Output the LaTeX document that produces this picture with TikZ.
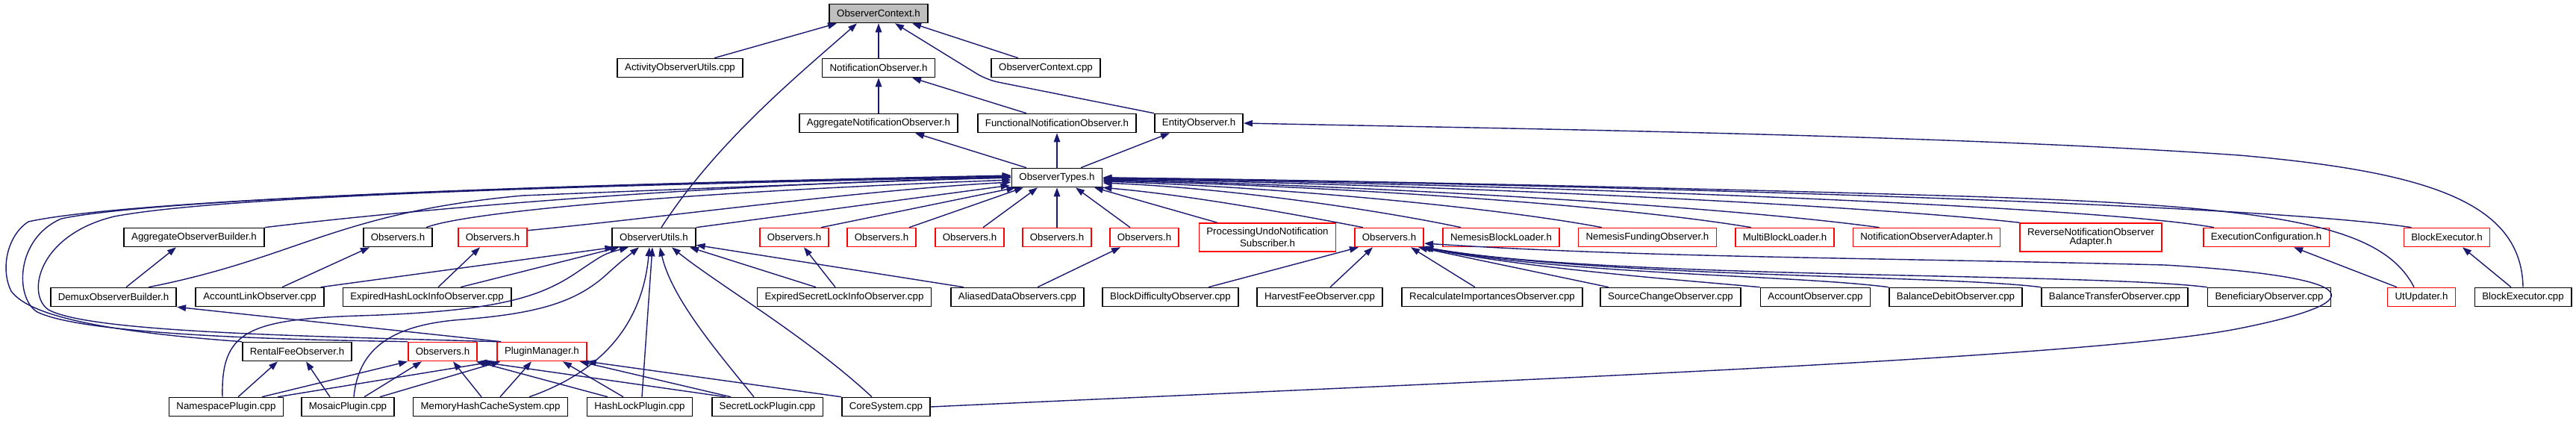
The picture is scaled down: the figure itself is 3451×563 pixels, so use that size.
\documentclass[tikz,border=0pt]{standalone}
\usepackage{fontspec}
\setmainfont{Liberation Sans}
\usetikzlibrary{arrows.meta,calc}

\definecolor{edgeblue}{HTML}{191970}
\definecolor{rootgray}{HTML}{BFBFBF}

\begin{document}
\begin{tikzpicture}[x=0.01cm,y=-0.01cm,
  file/.style={draw=black,fill=white,line width=0.45pt,inner xsep=0.1cm,
    inner ysep=0pt,minimum height=0.25cm,font=\fontsize{3.78}{3.5}\selectfont},
  missing/.style={file,draw=red},
  root/.style={file,fill=rootgray},
  twoline/.style={align=center,minimum height=0.38cm},
  dep/.style={edgeblue,line width=0.4pt,-{Triangle[length=0.12cm,width=0.085cm]}}]

\useasboundingbox (0,0) rectangle (3451,563);

%%%%%%%%%%%%%%%%%%%%%%%%%%%%%%%%%%%%%%%%%%%%%%%%%%
% Files
%%%%%%%%%%%%%%%%%%%%%%%%%%%%%%%%%%%%%%%%%%%%%%%%%%

% Root
\node[root] (ctx) at (1177,18) {ObserverContext.h};

% First and second level
\node[file] (actUtils) at (911,91) {ActivityObserverUtils.cpp};
\node[file] (notifObs) at (1177,91) {NotificationObserver.h};
\node[file] (ctxCpp) at (1401,91) {ObserverContext.cpp};

\node[file] (aggNotif) at (1177,165) {AggregateNotificationObserver.h};
\node[file] (funcNotif) at (1416,165) {FunctionalNotificationObserver.h};
\node[file] (entityObs) at (1606,165) {EntityObserver.h};

\node[file] (obsTypes) at (1416,238) {ObserverTypes.h};

% Fourth row
\node[file] (aggBuilder) at (260,318) {AggregateObserverBuilder.h};
\node[file] (obsA) at (533,318) {Observers.h};
\node[missing] (obsB) at (660,318) {Observers.h};
\node[file] (obsUtils) at (876,318) {ObserverUtils.h};
\node[missing] (obsC) at (1064,318) {Observers.h};
\node[missing] (obsD) at (1181,318) {Observers.h};
\node[missing] (obsE) at (1299,318) {Observers.h};
\node[missing] (obsF) at (1416,318) {Observers.h};
\node[missing] (obsG) at (1533,318) {Observers.h};
\node[missing,twoline] (undoSub) at (1698,318) {ProcessingUndoNotification\\Subscriber.h};
\node[missing] (obsH) at (1861,318) {Observers.h};
\node[missing] (nemLoader) at (2011,318) {NemesisBlockLoader.h};
\node[missing] (nemFunding) at (2207,318) {NemesisFundingObserver.h};
\node[missing] (multiLoader) at (2391,318) {MultiBlockLoader.h};
\node[missing] (adapter) at (2581,318) {NotificationObserverAdapter.h};
\node[missing,twoline] (revAdapter) at (2801,318) {ReverseNotificationObserver\\Adapter.h};
\node[missing] (execConfig) at (3036,318) {ExecutionConfiguration.h};
\node[missing] (blockExecH) at (3278,318) {BlockExecutor.h};

% Fifth row
\node[file] (demux) at (152,398) {DemuxObserverBuilder.h};
\node[file] (accLink) at (348,398) {AccountLinkObserver.cpp};
\node[file] (expHash) at (572,398) {ExpiredHashLockInfoObserver.cpp};
\node[file] (expSecret) at (1131,398) {ExpiredSecretLockInfoObserver.cpp};
\node[file] (aliased) at (1363,398) {AliasedDataObservers.cpp};
\node[file] (blockDiff) at (1568,398) {BlockDifficultyObserver.cpp};
\node[file] (harvest) at (1768,398) {HarvestFeeObserver.cpp};
\node[file] (recalc) at (1999,398) {RecalculateImportancesObserver.cpp};
\node[file] (srcChange) at (2238,398) {SourceChangeObserver.cpp};
\node[file] (accObs) at (2432,398) {AccountObserver.cpp};
\node[file] (balDebit) at (2620,398) {BalanceDebitObserver.cpp};
\node[file] (balTransfer) at (2833,398) {BalanceTransferObserver.cpp};
\node[file] (benef) at (3040,398) {BeneficiaryObserver.cpp};
\node[missing] (utUpdater) at (3244,398) {UtUpdater.h};
\node[file] (blockExecCpp) at (3380,398) {BlockExecutor.cpp};

% Sixth row
\node[file] (rentalFee) at (398,471) {RentalFeeObserver.h};
\node[missing] (obsI) at (593,471) {Observers.h};
\node[missing] (pluginMgr) at (726,471) {PluginManager.h};

% Seventh row
\node[file] (nsPlugin) at (303,545) {NamespacePlugin.cpp};
\node[file] (mosaicPlugin) at (466,545) {MosaicPlugin.cpp};
\node[file] (memCache) at (657,545) {MemoryHashCacheSystem.cpp};
\node[file] (hashLock) at (857,545) {HashLockPlugin.cpp};
\node[file] (secretLock) at (1028,545) {SecretLockPlugin.cpp};
\node[file] (coreSys) at (1187,545) {CoreSystem.cpp};

%%%%%%%%%%%%%%%%%%%%%%%%%%%%%%%%%%%%%%%%%%%%%%%%%%
% Includes
%%%%%%%%%%%%%%%%%%%%%%%%%%%%%%%%%%%%%%%%%%%%%%%%%%

% ObserverContext.h
\draw[dep] ($(actUtils.north)+(46,0)$) -- ($(ctx.south)+(-56,0)$);
\draw[dep] ($(obsUtils.north)+(10,0)$) .. controls (960,190) and (1070,100) .. ($(ctx.south)+(-29,0)$);
\draw[dep] (notifObs) -- (ctx);
\draw[dep,rounded corners=0.15cm] (entityObs.north west) -- (1322,107) -- ($(ctx.south)+(22,0)$);
\draw[dep] ($(ctxCpp.north)+(-37,0)$) -- ($(ctx.south)+(45,0)$);

% NotificationObserver.h and EntityObserver.h
\draw[dep] (aggNotif) -- (notifObs);
\draw[dep] ($(funcNotif.north)+(-41,0)$) -- ($(notifObs.south)+(45,0)$);
\draw[dep] ($(obsTypes.north)+(-41,0)$) -- ($(aggNotif.south)+(49,0)$);
\draw[dep] (obsTypes) -- (funcNotif);
\draw[dep] ($(obsTypes.north)+(32,0)$) -- ($(entityObs.south)+(-39,0)$);
\draw[dep] (blockExecCpp.north) .. controls (3378,270) and (3250,230) .. (3000,208)
  .. controls (2600,180) and (2000,172) .. (entityObs.east);

% ObserverTypes.h, right side
\draw[dep] ($(blockExecH.north west)+(11,0)$) .. controls (3000,270) and (2000,245) .. (obsTypes.east);
\draw[dep] ($(utUpdater.north)+(-10,0)$) .. controls (3190,300) and (3050,275) .. (2600,262)
  .. controls (2200,250) and (1700,240) .. (obsTypes.east);
\draw[dep] ($(execConfig.north west)+(15,0)$) .. controls (2800,275) and (2000,246) .. ($(obsTypes.east)+(0,1)$);
\draw[dep] (revAdapter.north west) .. controls (2500,275) and (1900,246) .. ($(obsTypes.east)+(0,2)$);
\draw[dep] ($(adapter.north west)+(36,0)$) .. controls (2300,275) and (1800,247) .. ($(obsTypes.east)+(0,3)$);
\draw[dep] ($(multiLoader.north west)+(22,0)$) .. controls (2150,272) and (1750,248) .. ($(obsTypes.east)+(0,4)$);
\draw[dep] ($(nemFunding.north west)+(32,0)$) .. controls (2000,277) and (1700,250) .. ($(obsTypes.east)+(0,5)$);
\draw[dep] ($(nemLoader.north west)+(25,0)$) .. controls (1850,282) and (1650,252) .. ($(obsTypes.east)+(0,7)$);
\draw[dep] ($(obsH.north west)+(12,0)$) .. controls (1750,290) and (1600,262) .. (obsTypes.south east);

% ObserverTypes.h, below
\draw[dep] ($(undoSub.north west)+(25,0)$) -- ($(obsTypes.south)+(50,0)$);
\draw[dep] ($(obsG.north)+(-19,0)$) -- ($(obsTypes.south)+(25,0)$);
\draw[dep] (obsF) -- (obsTypes);
\draw[dep] ($(obsE.north)+(18,0)$) -- ($(obsTypes.south)+(-26,0)$);
\draw[dep] ($(obsD.north)+(37,0)$) -- ($(obsTypes.south)+(-45,0)$);
\draw[dep] ($(obsC.north)+(36,0)$) -- ($(obsTypes.south west)+(6,0)$);
\draw[dep] (obsUtils.north east) -- ($(obsTypes.south west)+(-2,-3)$);

% ObserverTypes.h, left side
\draw[dep] ($(obsB.north east)+(0,4)$) .. controls (900,290) and (1150,255) .. ($(obsTypes.west)+(0,6)$);
\draw[dep] ($(obsA.north east)+(-9,0)$) .. controls (620,285) and (900,258) .. ($(obsTypes.west)+(0,3)$);
\draw[dep] (aggBuilder.north east) .. controls (600,275) and (1000,245) .. (obsTypes.west);
\draw[dep] ($(demux.north)+(47,0)$) .. controls (400,345) and (450,285) .. (700,262)
  .. controls (1000,250) and (1200,242) .. (obsTypes.west);

% Loops round the left edge
\draw[dep] (rentalFee.north west) .. controls (150,445) and (40,425) .. (15,390)
  .. controls (0,360) and (10,315) .. (38,297)
  .. controls (150,272) and (600,250) .. ($(obsTypes.west)+(0,-3)$);
\draw[dep] (obsI.north west) .. controls (450,456) and (120,452) .. (50,418)
  .. controls (20,400) and (20,320) .. (82,293)
  .. controls (200,268) and (700,248) .. ($(obsTypes.west)+(0,-2)$);
\draw[dep] (pluginMgr.north west) .. controls (400,450) and (120,445) .. (65,415)
  .. controls (35,395) and (50,315) .. (153,290)
  .. controls (300,262) and (800,248) .. ($(obsTypes.west)+(0,-1)$);

% Fourth row headers
\draw[dep] ($(demux.north)+(17,0)$) -- ($(aggBuilder.south)+(-24,0)$);
\draw[dep] ($(pluginMgr.north west)+(6,0)$) -- (demux.south east);
\draw[dep] ($(accLink.north)+(30,0)$) -- ($(obsA.south)+(-38,0)$);
\draw[dep] ($(expHash.north)+(15,0)$) -- ($(obsB.south)+(-17,0)$);
\draw[dep] ($(expSecret.north)+(-12,0)$) -- ($(obsC.south)+(13,0)$);
\draw[dep] ($(aliased.north)+(27,0)$) -- ($(obsG.south)+(-32,0)$);
\draw[dep] ($(utUpdater.north)+(-33,0)$) -- ($(execConfig.south)+(37,0)$);
\draw[dep] ($(blockExecCpp.north)+(-16,0)$) -- ($(blockExecH.south)+(21,0)$);

% ObserverUtils.h
\draw[dep] ($(accLink.north east)+(-5,0)$) -- ($(obsUtils.south west)+(3,0)$);
\draw[dep] ($(expHash.north)+(45,0)$) -- ($(obsUtils.south west)+(10,0)$);
\draw[dep] ($(expSecret.north)+(-38,0)$) -- ($(obsUtils.south)+(48,0)$);
\draw[dep] ($(aliased.north west)+(18,0)$) -- ($(obsUtils.south east)+(0,-3)$);
\draw[dep] ($(nsPlugin.north)+(-5,0)$) .. controls (296,445) and (330,428) .. (480,423)
  .. controls (680,417) and (730,395) .. (780,360)
  .. controls (810,340) .. ($(obsUtils.south)+(-34,0)$);
\draw[dep] ($(mosaicPlugin.north)+(8,0)$) .. controls (480,470) and (520,435) .. (620,428)
  .. controls (720,420) and (770,405) .. (810,370)
  .. controls (830,352) .. ($(obsUtils.south)+(-20,0)$);
\draw[dep] ($(memCache.north)+(52,0)$) .. controls (800,500) and (860,440) .. ($(obsUtils.south)+(-6,0)$);
\draw[dep] ($(hashLock.north)+(3,0)$) -- ($(obsUtils.south)+(-2,0)$);
\draw[dep] ($(secretLock.north)+(-18,0)$) .. controls (960,470) and (900,400) .. ($(obsUtils.south)+(8,0)$);
\draw[dep] ($(coreSys.north)+(-19,0)$) .. controls (1080,450) and (960,380) .. ($(obsUtils.south)+(24,0)$);

% Observers.h with many users
\draw[dep] ($(blockDiff.north)+(51,0)$) -- ($(obsH.south)+(-41,0)$);
\draw[dep] ($(harvest.north)+(14,0)$) -- ($(obsH.south)+(-22,0)$);
\draw[dep] ($(recalc.north)+(-23,0)$) -- ($(obsH.south)+(29,0)$);
\draw[dep] ($(srcChange.north)+(-83,0)$) -- ($(obsH.south)+(39,0)$);
\draw[dep] (accObs.north west) .. controls (2250,375) and (2050,360) .. ($(obsH.south east)+(-3,0)$);
\draw[dep] (balDebit.north west) .. controls (2400,368) and (2100,368) .. (obsH.south east);
\draw[dep] (balTransfer.north west) .. controls (2600,368) and (2150,372) .. (obsH.south east);
\draw[dep] (benef.north west) .. controls (2800,365) and (2150,374) .. (obsH.south east);
\draw[dep] (coreSys.east) .. controls (2000,510) and (2800,480) .. (3000,440)
  .. controls (3200,400) and (3150,370) .. (2900,355)
  .. controls (2500,345) and (2200,345) .. ($(obsH.east)+(0,8)$);

% Sixth row
\draw[dep] ($(nsPlugin.north)+(16,0)$) -- ($(rentalFee.south)+(-26,0)$);
\draw[dep] ($(nsPlugin.north)+(48,0)$) -- (obsI.south west);
\draw[dep] ($(nsPlugin.north)+(69,0)$) -- ($(pluginMgr.south west)+(-3,0)$);
\draw[dep] ($(mosaicPlugin.north)+(-24,0)$) -- ($(rentalFee.south)+(12,0)$);
\draw[dep] ($(mosaicPlugin.north)+(22,0)$) -- ($(obsI.south)+(-28,0)$);
\draw[dep] ($(mosaicPlugin.north)+(43,0)$) -- ($(pluginMgr.south west)+(5,0)$);
\draw[dep] ($(memCache.north)+(-12,0)$) -- ($(obsI.south)+(14,0)$);
\draw[dep] ($(memCache.north)+(13,0)$) -- ($(pluginMgr.south)+(-14,0)$);
\draw[dep] ($(hashLock.north)+(-43,0)$) -- ($(obsI.south east)+(-2,0)$);
\draw[dep] ($(hashLock.north)+(-22,0)$) -- ($(pluginMgr.south)+(28,0)$);
\draw[dep] ($(secretLock.north)+(-56,0)$) -- (obsI.south east);
\draw[dep] ($(secretLock.north)+(-49,0)$) -- ($(pluginMgr.south east)+(-10,0)$);
\draw[dep] (coreSys.north west) -- (pluginMgr.south east);

\end{tikzpicture}
\end{document}
